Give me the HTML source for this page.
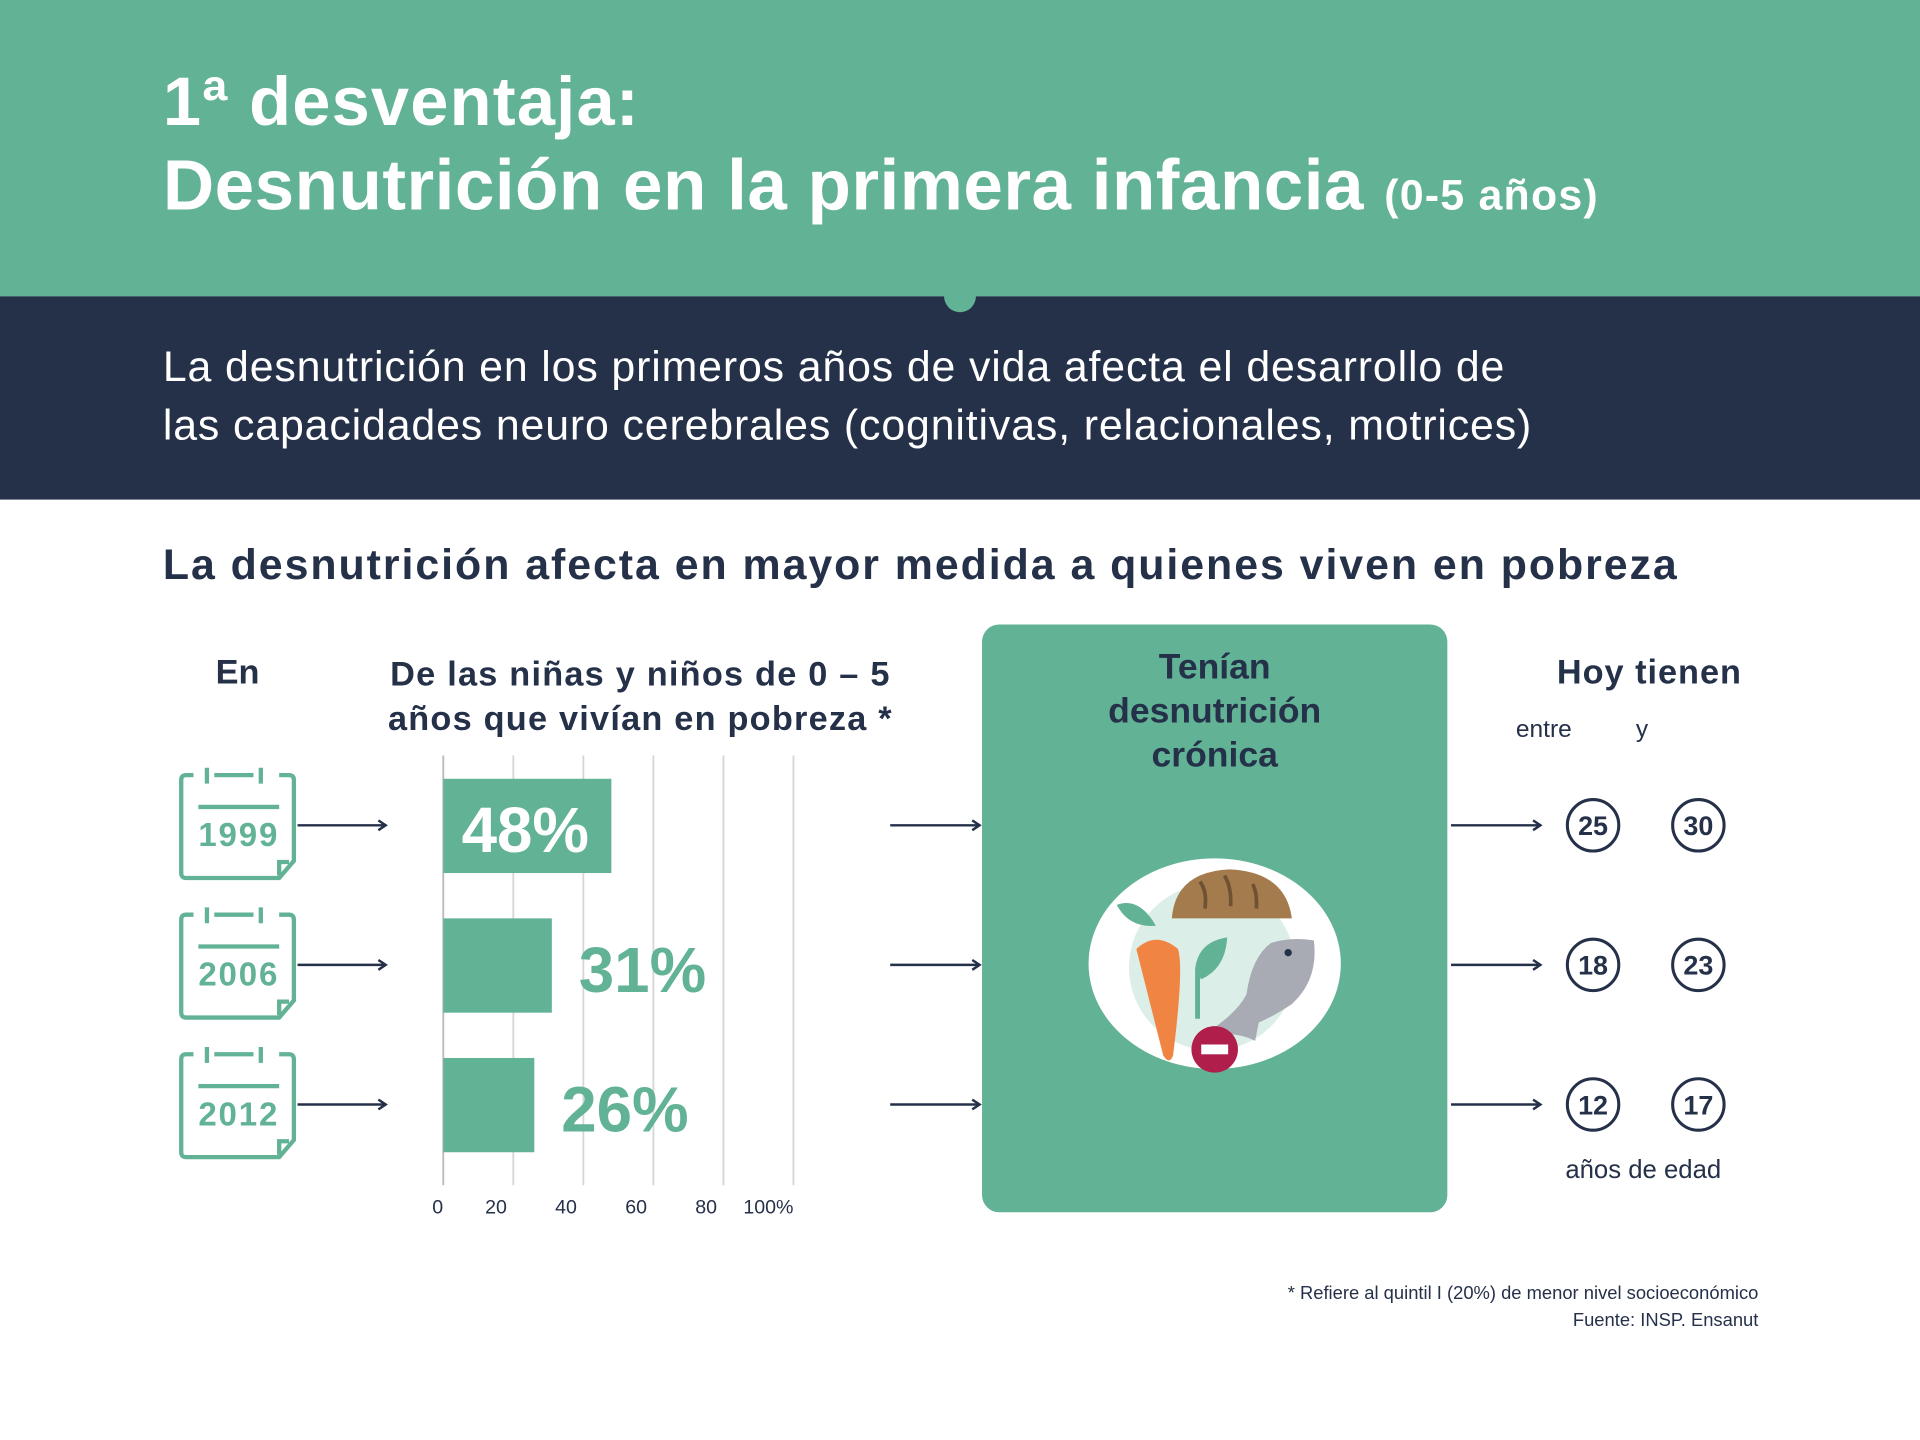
<!DOCTYPE html>
<html><head><meta charset="utf-8"><style>
html,body{margin:0;padding:0;width:1920px;height:1440px;overflow:hidden;background:#fff}
#root{position:absolute;left:0;top:0;width:1568px;height:1176px;transform:scale(1.22449);transform-origin:0 0;font-family:"Liberation Sans",sans-serif}
.t{position:absolute;white-space:nowrap}
</style></head><body>
<div id="root">
<div style="position:absolute;left:0;top:0;width:1568px;height:242px;background:#62b295"></div>
<div class="t" style="left:133px;top:50px;font-size:56px;font-weight:bold;color:#fff;letter-spacing:1px">1ª desventaja:</div>
<div class="t" style="left:133px;top:118px;font-size:58px;font-weight:bold;color:#fff;letter-spacing:0.4px">Desnutrición en la primera infancia <span style="font-size:35px;letter-spacing:1px">(0-5 años)</span></div>
<div style="position:absolute;left:0;top:242px;width:1568px;height:166px;background:#253049"></div>
<div style="position:absolute;left:771px;top:229px;width:26px;height:26px;border-radius:50%;background:#62b295"></div>
<div class="t" style="left:133px;top:276px;font-size:35px;line-height:48px;color:#fff;letter-spacing:0.7px">La desnutrición en los primeros años de vida afecta el desarrollo de<br>las capacidades neuro cerebrales (cognitivas, relacionales, motrices)</div>
<div class="t" style="left:133px;top:442px;font-size:35px;font-weight:bold;color:#253049;letter-spacing:1.6px">La desnutrición afecta en mayor medida a quienes viven en pobreza</div>
<div class="t" style="left:194px;top:533px;transform:translateX(-50%);font-size:28px;font-weight:bold;color:#253049">En</div>
<div class="t" style="left:523px;top:533px;transform:translateX(-50%);font-size:28px;line-height:36px;font-weight:bold;color:#253049;text-align:center;letter-spacing:1px">De las niñas y niños de 0 – 5<br>años que vivían en pobreza *</div>
<svg id="chart" style="position:absolute;left:0;top:0" width="1568" height="1176"></svg>
<div style="position:absolute;left:802px;top:510px;width:380px;height:480px;border-radius:14px;background:#62b295"></div>
<div class="t" style="left:992px;top:527px;transform:translateX(-50%);font-size:29px;line-height:36px;font-weight:bold;color:#253049;text-align:center">Tenían<br>desnutrición<br>crónica</div>
<svg style="position:absolute;left:880px;top:690px" width="230" height="200" viewBox="0 0 230 200">
<ellipse cx="112" cy="97" rx="103" ry="86" fill="#fff"/>
<ellipse cx="110" cy="100" rx="68" ry="68" fill="#dceee8"/>
<path d="M77 60 Q80 22 124 20 Q170 22 175 60 Z" fill="#a37b4c"/>
<path d="M100 30 Q106 38 104 52 M120 25 Q126 35 125 50 M143 32 Q147 40 146 52" stroke="#6f5233" stroke-width="3" fill="none"/>
<path d="M32 49 Q50 42 64 66 Q42 68 32 49Z" fill="#62b295"/>
<path d="M48 85 Q64 70 82 85 Q87 100 78 172 Q75 180 70 172 Z" fill="#f08543"/>
<path d="M98 142 L98 102 Q100 82 120 78 Q118 100 100 108" stroke="#62b295" stroke-width="4" fill="#62b295"/>
<path d="M103 155 Q130 138 138 122 Q142 92 158 80 Q175 75 193 78 Q197 110 175 130 Q160 140 148 145 L145 160 Q130 152 103 155Z" fill="#a9abb4"/>
<circle cx="172" cy="88" r="3" fill="#253049"/>
<circle cx="112" cy="167" r="19" fill="#b01e4c"/>
<rect x="101" y="163" width="22" height="8" fill="#fff"/>
</svg>
<div class="t" style="left:1347px;top:533px;transform:translateX(-50%);font-size:28px;font-weight:bold;color:#253049;letter-spacing:0.8px">Hoy tienen</div>
<div class="t" style="left:1238px;top:585px;font-size:20px;color:#253049">entre</div>
<div class="t" style="left:1336px;top:585px;font-size:20px;color:#253049">y</div>
<div class="t" style="left:1342px;top:944px;transform:translateX(-50%);font-size:21px;color:#253049">años de edad</div>
<div class="t" style="right:132px;top:1046px;font-size:15px;line-height:22px;color:#253049;text-align:right">* Refiere al quintil I (20%) de menor nivel socioeconómico<br>Fuente: INSP. Ensanut</div>
</div>
<script>
const years = ["1999","2006","2012"];
const poverty = [48,31,26];
const ageLow = [25,18,12];
const ageHigh = [30,23,17];
const ticks = [0,20,40,60,80,100];
const tickLabels = ["0","20","40","60","80","100%"];
const NS="http://www.w3.org/2000/svg";
const svg=document.getElementById('chart');
const x=v=>362+v*(648-362)/100;
const rowY=i=>674+i*114;
function mk(tag,attrs,parent){const e=document.createElementNS(NS,tag);for(const k in attrs)e.setAttribute(k,attrs[k]);(parent||svg).appendChild(e);return e;}
const defs=mk('defs',{});
const mkr=mk('marker',{id:'ah',markerWidth:'10',markerHeight:'10',refX:'8',refY:'5',orient:'auto',markerUnits:'userSpaceOnUse'},defs);
mk('path',{d:'M2 1 L8 5 L2 9',fill:'none',stroke:'#253049','stroke-width':'2'},mkr);
ticks.forEach((t,i)=>{
  const g=mk('line',{x1:x(t),x2:x(t),y1:617,y2:968,stroke:i==0?'#bbb':'#d6d6d6','stroke-width':'1.5'});
  
  
  const tl=mk('text',{x:i==5?x(t):(i==0?x(t)-9:x(t)-23),y:991,'font-size':'16','fill':'#253049','text-anchor':i==5?'end':'start','font-family':'Liberation Sans'});
  tl.textContent=tickLabels[i];
  
  
});
years.forEach((y,i)=>{
  const cy=rowY(i);
  const cal=mk('g',{});
  
  
  const top=cy-41;
  mk('path',{d:`M158 ${top} L152 ${top} Q148 ${top} 148 ${top+4} L148 ${top+80} Q148 ${top+84} 152 ${top+84} L228 ${top+84} L240 ${top+70} L240 ${top+4} Q240 ${top} 236 ${top} L228 ${top}`,fill:'none',stroke:'#62b295','stroke-width':'3.5'},cal);
  mk('path',{d:`M169 ${top-6} L169 ${top+7} M213 ${top-6} L213 ${top+7} M175 ${top} L207 ${top} M162 ${top+26} L228 ${top+26} M228 ${top+82} L228 ${top+71} L236 ${top+71}`,fill:'none',stroke:'#62b295','stroke-width':'3.5'},cal);
  const yt=mk('text',{x:195,y:cy+17,'font-size':'27','font-weight':'bold',fill:'#62b295','text-anchor':'middle','font-family':'Liberation Sans','letter-spacing':'1.5'},cal);
  yt.textContent=y;
  [[243,315],[727,800],[1185,1258]].forEach(a=>{
    const l=mk('line',{x1:a[0],x2:a[1],y1:cy,y2:cy,stroke:'#253049','stroke-width':'2','marker-end':'url(#ah)'});
    
    
  });
  const b=mk('rect',{x:x(0),y:cy-38,width:x(poverty[i])-x(0),height:77,fill:'#62b295'});
  
  
  const inside=i==0;
  const lb=mk('text',{x:inside?x(0)+15:x(poverty[i])+22,y:cy+22,'font-size':'52','font-weight':'bold',fill:inside?'#fff':'#62b295','font-family':'Liberation Sans'});
  lb.textContent=poverty[i]+'%';
  
  
  [[1301,ageLow[i]],[1387,ageHigh[i]]].forEach(c=>{
    const g=mk('g',{});
    
    
    mk('circle',{cx:c[0],cy:cy,r:21,fill:'none',stroke:'#253049','stroke-width':'2.5'},g);
    const t=mk('text',{x:c[0],y:cy+8,'font-size':'22','font-weight':'bold',fill:'#253049','text-anchor':'middle','font-family':'Liberation Sans'},g);
    t.textContent=c[1];
  });
});
</script>
</body></html>
